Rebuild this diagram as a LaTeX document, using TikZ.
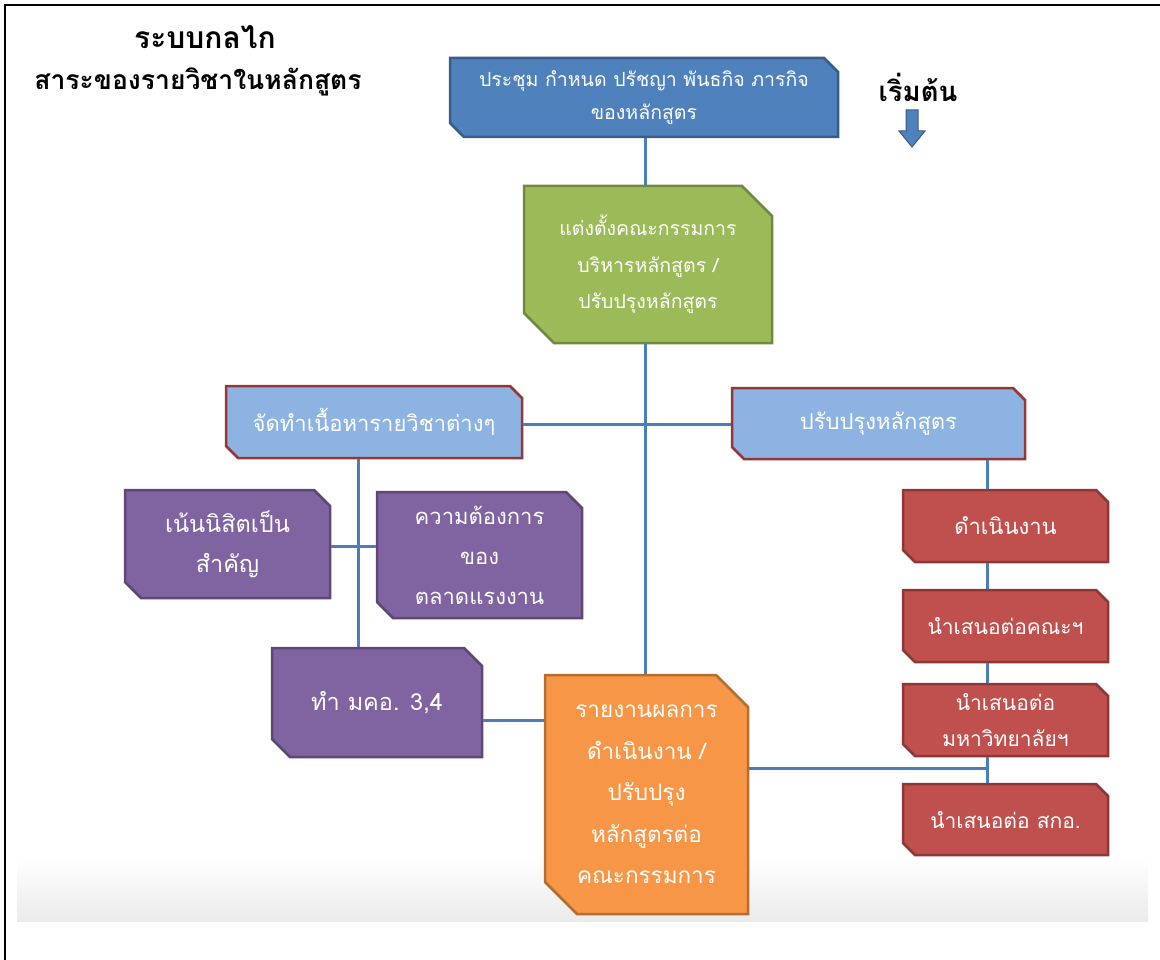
\documentclass[tikz,border=0pt]{standalone}
\usepackage{fontspec}
\newfontfamily\thaifont[Script=Thai]{Loma}
\usetikzlibrary{shapes.misc}

\definecolor{linkblue}{HTML}{4A7EBB}
\definecolor{navyfill}{HTML}{4F81BD}
\definecolor{navyline}{HTML}{385D8A}
\definecolor{greenfill}{HTML}{9BBB59}
\definecolor{greenline}{HTML}{71893F}
\definecolor{skyfill}{HTML}{8DB3E2}
\definecolor{skyline}{HTML}{953735}
\definecolor{purplefill}{HTML}{8064A2}
\definecolor{purpleline}{HTML}{5C4776}
\definecolor{orangefill}{HTML}{F79646}
\definecolor{orangeline}{HTML}{B66D31}
\definecolor{redfill}{HTML}{C0504D}
\definecolor{redline}{HTML}{8C3836}

\begin{document}
\begin{tikzpicture}[x=1pt,y=-1pt,
	snip/.style={chamfered rectangle,chamfered rectangle corners={north east,south west},
		chamfered rectangle xsep=#1,chamfered rectangle ysep=#1,
		draw,line width=2.5pt,inner sep=0pt,text=white,align=center},
	snip/.default=8pt,
	textsize/.style 2 args={font=\thaifont\fontsize{#1}{#2}\selectfont},
	link/.style={draw=linkblue,line width=3pt},
	title/.style={font=\thaifont\bfseries\fontsize{26.5}{45}\selectfont,align=center}]

\useasboundingbox (0,0) rectangle (1160,960);
\shade[top color=white,bottom color=black!8] (17,858) rectangle (1148,921);
\draw[line width=2pt] (5,960) -- (5,5) -- (1160,5);

\node[title,font=\thaifont\bfseries\fontsize{30}{45}\selectfont]	(head1)	at (205,37)	{ระบบกลไก};
\node[title]	(head2)	at (198,82)	{สาระของรายวิชาในหลักสูตร};
\node[title,font=\thaifont\bfseries\fontsize{27.5}{40}\selectfont]	(start)	at (918,87)	{เริ่มต้น};
\fill[navyfill,draw=navyline,line width=1pt] (906,110) -- (918,110) -- (918,131) -- (925,131)
	-- (912,147) -- (899,131) -- (906,131) -- cycle;

\node[snip=7pt,fill=navyfill,draw=navyline,minimum width=388,minimum height=79,textsize={19.5}{33}]	(meet)	at (644,97.5)
	{ประชุม กำหนด ปรัชญา พันธกิจ ภารกิจ\\ของหลักสูตร};
\node[snip=15pt,fill=greenfill,draw=greenline,minimum width=248,minimum height=157,textsize={19.5}{36.5}]	(board)	at (648,264.5)
	{แต่งตั้งคณะกรรมการ\\บริหารหลักสูตร /\\ปรับปรุงหลักสูตร};
\node[snip=6pt,fill=skyfill,draw=skyline,minimum width=296,minimum height=72,textsize={22}{40}]	(content)	at (374,422)
	{จัดทำเนื้อหารายวิชาต่างๆ};
\node[snip=6pt,fill=skyfill,draw=skyline,minimum width=293,minimum height=71,textsize={22}{40}]	(revise)	at (878.5,423.5)
	{ปรับปรุงหลักสูตร};
\node[snip,fill=purplefill,draw=purpleline,minimum width=205,minimum height=108,textsize={23.5}{40}]	(student)	at (227.5,544)
	{เน้นนิสิตเป็น\\สำคัญ};
\node[snip,fill=purplefill,draw=purpleline,minimum width=205,minimum height=126,textsize={22}{40}]	(market)	at (479.5,555)
	{ความต้องการ\\ของ\\ตลาดแรงงาน};
\node[snip=9pt,fill=purplefill,draw=purpleline,minimum width=210,minimum height=109,textsize={23.5}{40}]	(tqf)	at (377,702.5)
	{ทำ มคอ. 3,4};
\node[snip=16pt,fill=orangefill,draw=orangeline,minimum width=203,minimum height=239,textsize={22.5}{41.5}]	(report)	at (646.5,794.5)
	{รายงานผลการ\\ดำเนินงาน /\\ปรับปรุง\\หลักสูตรต่อ\\คณะกรรมการ};
\node[snip=6pt,fill=redfill,draw=redline,minimum width=205,minimum height=72,textsize={22}{36}]	(run)	at (1005.5,526)
	{ดำเนินงาน};
\node[snip=6pt,fill=redfill,draw=redline,minimum width=205,minimum height=72,textsize={21}{36}]	(faculty)	at (1005.5,626)
	{นำเสนอต่อคณะฯ};
\node[snip=6pt,fill=redfill,draw=redline,minimum width=205,minimum height=72,textsize={21}{36}]	(univ)	at (1005.5,720)
	{นำเสนอต่อ\\มหาวิทยาลัยฯ};
\node[snip=6pt,fill=redfill,draw=redline,minimum width=205,minimum height=71,textsize={21}{36}]	(ohec)	at (1005.5,819.5)
	{นำเสนอต่อ สกอ.};

\coordinate (spine)	at (645,424);
\coordinate (leftcol)	at (358,546);
\coordinate (tqfrow)	at (510,720);
\coordinate (rightcol)	at (987,768);

\path[link]	(meet.south -| spine)	edge	(board.north -| spine)
			(board.south -| spine)	edge	(report.north -| spine)
			(content.east |- spine)	edge	(revise.west |- spine)
			(content.south -| leftcol)	edge	(tqf.north -| leftcol)
			(student.east |- leftcol)	edge	(market.west |- leftcol)
			(tqf.east |- tqfrow)	edge	(report.west |- tqfrow)
			(revise.south -| rightcol)	edge	(run.north -| rightcol)
			(run.south -| rightcol)	edge	(faculty.north -| rightcol)
			(faculty.south -| rightcol)	edge	(univ.north -| rightcol)
			(univ.south -| rightcol)	edge	(ohec.north -| rightcol)
			(report.east |- rightcol)	edge	(rightcol);

\end{tikzpicture}
\end{document}
